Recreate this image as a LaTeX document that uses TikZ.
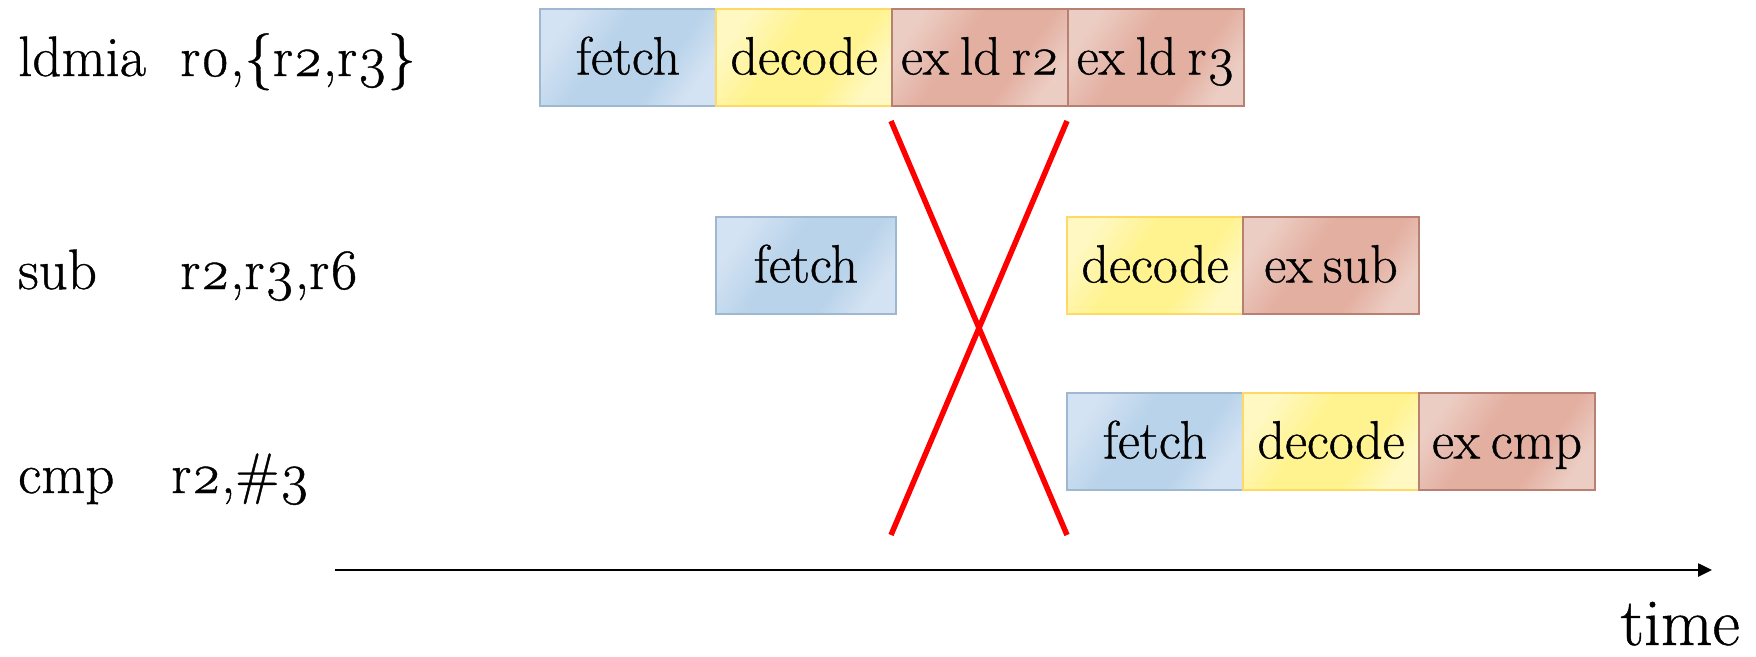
\documentclass[tikz,border=0pt]{standalone}
\usepackage{fontspec}
\setmainfont{Latin Modern Roman}[Numbers=OldStyle, FakeBold=0.7, BoldFont=*]
\usetikzlibrary{arrows.meta,positioning}

% stage colours
\definecolor{fetchlight}{HTML}{D4E3F3}
\definecolor{fetchdark}{HTML}{B9D3EA}
\definecolor{fetchedge}{HTML}{9FB8D2}
\definecolor{decodelight}{HTML}{FFF8C2}
\definecolor{decodedark}{HTML}{FFF38F}
\definecolor{decodeedge}{HTML}{FFD966}
\definecolor{exlight}{HTML}{ECCDC3}
\definecolor{exdark}{HTML}{E3AFA1}
\definecolor{exedge}{HTML}{B88070}

% light -> dark -> light bands for the stage boxes
\pgfdeclarehorizontalshading{fetchshade}{100bp}{color(0bp)=(fetchlight); color(25bp)=(fetchlight); color(42bp)=(fetchdark); color(62bp)=(fetchdark); color(75bp)=(fetchlight); color(100bp)=(fetchlight)}
\pgfdeclarehorizontalshading{decodeshade}{100bp}{color(0bp)=(decodelight); color(25bp)=(decodelight); color(42bp)=(decodedark); color(62bp)=(decodedark); color(75bp)=(decodelight); color(100bp)=(decodelight)}
\pgfdeclarehorizontalshading{exshade}{100bp}{color(0bp)=(exlight); color(25bp)=(exlight); color(42bp)=(exdark); color(62bp)=(exdark); color(75bp)=(exlight); color(100bp)=(exlight)}

% text face inside the stage boxes, with narrow word spaces
\newcommand\stagefont{\fontsize{54pt}{62pt}\selectfont\spaceskip=0.2em plus 0.05em\relax}

\tikzset{
  stagebox/.style={draw, line width=1.5pt, outer sep=0pt, inner sep=0pt,
    minimum height=97pt, minimum width=176pt, text height=38pt, text depth=4pt,
    font=\stagefont, shading angle=-35},
  fetchbox/.style={stagebox, draw=fetchedge, shading=fetchshade},
  decodebox/.style={stagebox, draw=decodeedge, shading=decodeshade},
  exbox/.style={stagebox, draw=exedge, shading=exshade},
  instr/.style={anchor=base west, inner sep=0pt, font=\fontsize{57pt}{64pt}\selectfont},
  crossline/.style={draw=red, line width=5.5pt},
  timeaxis/.style={draw=black, line width=2.5pt, -{Triangle[length=14pt,width=13pt]}},
}

\begin{document}
\begin{tikzpicture}[x=1pt, y=-1pt]
\useasboundingbox (0,0) rectangle (1756,656);

% instruction listing
\node[instr] (m1) at (18,76)  {ldmia};
\node[instr] (o1) at (180,76) {r0,\{r2,r3\}};
\node[instr] (m2) at (18,289) {sub};
\node[instr] (o2) at (180,289) {r2,r3,r6};
\node[instr] (m3) at (18,493) {cmp};
\node[instr] (o3) at (171,493) {r2,\#3};

% ldmia pipeline stages
\node[fetchbox, anchor=north west] (f1) at (540,9) {fetch};
\node[decodebox, right=0pt of f1] (d1) {decode};
\node[exbox, right=0pt of d1] (e1a) {ex ld r2};
\node[exbox, right=0pt of e1a] (e1b) {ex ld r3};

% sub pipeline stages
\node[fetchbox, anchor=north west, minimum width=180pt] (f2) at (716,217) {fetch};
\node[decodebox, anchor=north west] (d2) at (1067,217) {decode};
\node[exbox, right=0pt of d2] (e2) {ex sub};

% cmp pipeline stages
\node[fetchbox, anchor=north west, minimum width=176pt] (f3) at (1067,393) {fetch};
\node[decodebox, right=0pt of f3] (d3) {decode};
\node[exbox, right=0pt of d3] (e3) {ex cmp};

% crossed-out cycles
\coordinate (xa) at (891,121);
\coordinate (xb) at (1067,535);
\coordinate (xc) at (1067,121);
\coordinate (xd) at (891,535);
\draw[crossline] (xa) -- (xb);
\draw[crossline] (xc) -- (xd);

% time axis
\coordinate (t0) at (335,570);
\coordinate (t1) at (1712,570);
\draw[timeaxis] (t0) -- (t1);
\node[anchor=base east, inner sep=0pt, font=\fontsize{67pt}{74pt}\selectfont] (tl) at (1740,645) {time};
\end{tikzpicture}
\end{document}
